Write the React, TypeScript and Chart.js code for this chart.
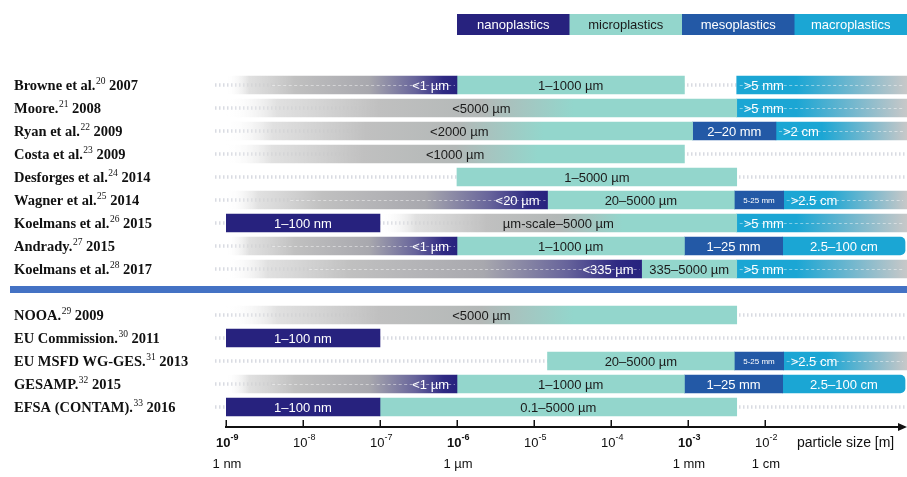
import React, { useEffect, useRef } from "react";
import { Chart, registerables } from "chart.js";
Chart.register(...registerables);

// ---------- DATA ----------
const authors = ["Browne et al.", "Moore.", "Ryan et al.", "Costa et al.", "Desforges et al.", "Wagner et al.", "Koelmans et al.", "Andrady.", "Koelmans et al.", "", "NOOA.", "EU Commission.", "EU MSFD WG-GES.", "GESAMP.", "EFSA (CONTAM)."];
const refs = ["20", "21", "22", "23", "24", "25", "26", "27", "28", "", "29", "30", "31", "32", "33"];
const years = ["2007", "2008", "2009", "2009", "2014", "2014", "2015", "2015", "2017", "", "2009", "2011", "2013", "2015", "2016"];
const categories = authors.map((a, i) => (a ? `${a} ${years[i]}` : "separator"));
const separatorRow = 9;

type R = [number, number] | null;
const _ = null;

// gray -> navy (nano, open lower end)
const nanoFade: R[] = [[1e-9, 1e-6], _, _, _, _, [1e-9, 1.5e-5], _, [1e-9, 1e-6], [1e-9, 2.5e-4], _, _, _, _, [1e-9, 1e-6], _];
const nanoFadeText = ["<1 µm", "", "", "", "", "<20 µm", "", "<1 µm", "<335 µm", "", "", "", "", "<1 µm", ""];
// solid navy
const nanoSolid: R[] = [_, _, _, _, _, _, [1e-9, 1e-7], _, _, _, _, [1e-9, 1e-7], _, _, [1e-9, 1e-7]];
const nanoSolidText = ["", "", "", "", "", "", "1–100 nm", "", "", "", "", "1–100 nm", "", "", "1–100 nm"];
// gray -> teal (micro, open lower end)
const microFade: R[] = [_, [1e-9, 4.3e-3], [1e-9, 1.15e-3], [1e-9, 9e-4], _, _, [1e-7, 4.3e-3], _, _, _, [1e-9, 4.3e-3], _, _, _, _];
const microFadeText = ["", "<5000 µm", "<2000 µm", "<1000 µm", "", "", "µm-scale–5000 µm", "", "", "", "<5000 µm", "", "", "", ""];
// solid teal
const microSolid: R[] = [[1e-6, 9e-4], _, _, _, [1e-6, 4.3e-3], [1.5e-5, 4e-3], _, [1e-6, 9e-4], [2.5e-4, 4.3e-3], _, _, _, [1.5e-5, 4e-3], [1e-6, 9e-4], [1e-7, 4.3e-3]];
const microSolidText = ["1–1000 µm", "", "", "", "1–5000 µm", "20–5000 µm", "", "1–1000 µm", "335–5000 µm", "", "", "", "20–5000 µm", "1–1000 µm", "0.1–5000 µm"];
// solid blue (meso)
const mesoSolid: R[] = [_, _, [1.15e-3, 1.39e-2], _, _, [4e-3, 1.75e-2], _, [9e-4, 1.7e-2], _, _, _, _, [4e-3, 1.75e-2], [9e-4, 1.7e-2], _];
const mesoSolidText = ["", "", "2–20 mm", "", "", "5-25 mm", "", "1–25 mm", "", "", "", "", "5-25 mm", "1–25 mm", ""];
// solid cyan (macro)
const macroSolid: R[] = [_, _, _, _, _, _, _, [1.7e-2, 0.66], _, _, _, _, _, [1.7e-2, 0.66], _];
const macroSolidText = ["", "", "", "", "", "", "", "2.5–100 cm", "", "", "", "", "", "2.5–100 cm", ""];
// cyan -> gray (macro, open upper end)
const macroFade: R[] = [[4.3e-3, 0.7], [4.3e-3, 0.7], [1.39e-2, 0.7], _, _, [1.75e-2, 0.7], [4.3e-3, 0.7], _, [4.3e-3, 0.7], _, _, _, [1.75e-2, 0.7], _, _];
const macroFadeText = [">5 mm", ">5 mm", ">2 cm", "", "", ">2.5 cm", ">5 mm", "", ">5 mm", "", "", "", ">2.5 cm", "", ""];

const legendNames = ["nanoplastics", "microplastics", "mesoplastics", "macroplastics"];
const tickExps = [-9, -8, -7, -6, -5, -4, -3, -2];
const boldExps = [-9, -6, -3];
const unitValues = [1e-9, 1e-6, 1e-3, 1e-2];
const unitTexts = ["1 nm", "1 µm", "1 mm", "1 cm"];
const axisTitle = "particle size [m]";

// ---------- STYLE ----------
const NAVY = "#27227e";
const TEAL = "#93d6cc";
const BLUE = "#2359a6";
const CYAN = "#1ba6d4";
const legendColors = [NAVY, TEAL, BLUE, CYAN];
const legendTextColors = ["#ffffff", "#1a1a1a", "#ffffff", "#ffffff"];
const SANS = '"Liberation Sans", Arial, sans-serif';
const SERIF = '"Liberation Serif", "Times New Roman", serif';

function gradient(kind: string, fallback: string) {
  return (ctx: any) => {
    const chart = ctx.chart;
    const raw = ctx.raw;
    if (!raw || !chart.chartArea || !chart.scales.x) return fallback;
    const xs = chart.scales.x;
    const x0 = xs.getPixelForValue(raw[0]);
    const x1 = xs.getPixelForValue(raw[1]);
    if (!isFinite(x0) || !isFinite(x1) || x1 === x0) return fallback;
    const g = chart.ctx.createLinearGradient(x0, 0, x1, 0);
    if (kind === "nano") {
      g.addColorStop(0, "rgba(255,255,255,0)");
      g.addColorStop(0.1, "rgba(214,214,214,0.75)");
      g.addColorStop(0.3, "#c0c0c0");
      g.addColorStop(0.62, "#a8a8ae");
      g.addColorStop(0.82, "#67649b");
      g.addColorStop(0.94, "#2f2a83");
      g.addColorStop(1, NAVY);
    } else if (kind === "micro") {
      g.addColorStop(0, "rgba(255,255,255,0)");
      g.addColorStop(0.1, "rgba(214,214,214,0.75)");
      g.addColorStop(0.3, "#c0c0c0");
      g.addColorStop(0.5, "#b3b8b7");
      g.addColorStop(0.68, TEAL);
      g.addColorStop(1, TEAL);
    } else {
      g.addColorStop(0, CYAN);
      g.addColorStop(0.35, CYAN);
      g.addColorStop(1, "#c8c8c8");
    }
    return g;
  };
}

const dsDefs = [
  { key: "nanoFade", data: nanoFade, texts: nanoFadeText, bg: gradient("nano", NAVY), color: "#ffffff", align: "right", dashes: true },
  { key: "microFade", data: microFade, texts: microFadeText, bg: gradient("micro", TEAL), color: "#1a1a1a", align: "center", dashes: false },
  { key: "nanoSolid", data: nanoSolid, texts: nanoSolidText, bg: NAVY, color: "#ffffff", align: "center", dashes: false },
  { key: "microSolid", data: microSolid, texts: microSolidText, bg: TEAL, color: "#1a1a1a", align: "center", dashes: false },
  { key: "mesoSolid", data: mesoSolid, texts: mesoSolidText, bg: BLUE, color: "#ffffff", align: "center", dashes: false },
  { key: "macroSolid", data: macroSolid, texts: macroSolidText, bg: CYAN, color: "#ffffff", align: "center", dashes: false, radius: 5 },
  { key: "macroFade", data: macroFade, texts: macroFadeText, bg: gradient("macro", CYAN), color: "#ffffff", align: "left", dashes: true },
];

const dottedPlugin = {
  id: "dotted",
  beforeDatasetsDraw(chart: any) {
    const { ctx, chartArea, scales } = chart;
    ctx.save();
    ctx.strokeStyle = "rgba(185,190,202,0.55)";
    ctx.lineWidth = 3.5;
    ctx.setLineDash([1.5, 2.5]);
    categories.forEach((_c, i) => {
      if (i === separatorRow) return;
      const y = scales.y.getPixelForValue(i);
      ctx.beginPath();
      ctx.moveTo(chartArea.left - 11, y);
      ctx.lineTo(chartArea.right, y);
      ctx.stroke();
    });
    ctx.restore();
  },
};

const textPlugin = {
  id: "barTexts",
  afterDatasetsDraw(chart: any) {
    const { ctx } = chart;
    chart.data.datasets.forEach((ds: any, di: number) => {
      const meta = chart.getDatasetMeta(di);
      meta.data.forEach((el: any, i: number) => {
        const t = ds.texts[i];
        if (!t) return;
        const p = el.getProps(["x", "base", "y"], true);
        const left = Math.min(p.x, p.base);
        const right = Math.max(p.x, p.base);
        const w = right - left;
        ctx.save();
        if (ds.dashes) {
          ctx.strokeStyle = "rgba(255,255,255,0.45)";
          ctx.lineWidth = 1;
          ctx.setLineDash([3, 2.5]);
          ctx.beginPath();
          if (ds.align === "right") {
            ctx.moveTo(left + w * 0.2, p.y + 0.5);
            ctx.lineTo(right - 2, p.y + 0.5);
          } else {
            ctx.moveTo(left + 3, p.y + 0.5);
            ctx.lineTo(right - 4, p.y + 0.5);
          }
          ctx.stroke();
          ctx.setLineDash([]);
        }
        let size = 13;
        ctx.font = `${size}px ${SANS}`;
        if (ctx.measureText(t).width > w - 4) {
          size = 8;
          ctx.font = `${size}px ${SANS}`;
        }
        ctx.fillStyle = ds.textColor;
        ctx.textBaseline = "middle";
        let tx: number;
        if (ds.align === "right") {
          ctx.textAlign = "right";
          tx = right - 8;
        } else if (ds.align === "left") {
          ctx.textAlign = "left";
          tx = left + 7;
        } else {
          ctx.textAlign = "center";
          tx = (left + right) / 2;
        }
        ctx.fillText(t, tx, p.y + 1);
        ctx.restore();
      });
    });
  },
};

const framePlugin = {
  id: "frame",
  afterDraw(chart: any) {
    const { ctx, chartArea, scales } = chart;
    const xs = scales.x;
    const ys = scales.y;
    ctx.save();

    // row labels (author, superscript ref, year)
    ctx.textBaseline = "alphabetic";
    ctx.textAlign = "left";
    ctx.fillStyle = "#111111";
    authors.forEach((a, i) => {
      if (!a) return;
      const y = ys.getPixelForValue(i) + 5;
      let x = 14;
      ctx.font = `bold 14.5px ${SERIF}`;
      ctx.fillText(a, x, y);
      x += ctx.measureText(a).width;
      ctx.font = `9.5px ${SERIF}`;
      ctx.fillText(refs[i], x + 0.5, y - 6);
      x += ctx.measureText(refs[i]).width + 0.5;
      ctx.font = `bold 14.5px ${SERIF}`;
      ctx.fillText(" " + years[i], x, y);
    });

    // separator
    const sy = ys.getPixelForValue(separatorRow);
    ctx.fillStyle = "#4472c4";
    ctx.fillRect(10, sy - 6, chartArea.right - 10, 7);

    // legend
    const lw = 112.5;
    const lx0 = chartArea.right - lw * legendNames.length;
    legendNames.forEach((n, i) => {
      const x = lx0 + i * lw;
      ctx.fillStyle = legendColors[i];
      ctx.fillRect(x, 14, lw + 0.5, 21);
      ctx.fillStyle = legendTextColors[i];
      ctx.font = `13px ${SANS}`;
      ctx.textAlign = "center";
      ctx.textBaseline = "middle";
      ctx.fillText(n, x + lw / 2, 25);
    });

    // axis line
    const ay = chartArea.bottom + 8.5;
    ctx.strokeStyle = "#111111";
    ctx.fillStyle = "#111111";
    ctx.lineWidth = 2;
    ctx.beginPath();
    ctx.moveTo(xs.getPixelForValue(1e-9) - 1, ay);
    ctx.lineTo(chartArea.right - 4, ay);
    ctx.stroke();
    ctx.beginPath();
    ctx.moveTo(chartArea.right, ay);
    ctx.lineTo(chartArea.right - 9, ay - 4);
    ctx.lineTo(chartArea.right - 9, ay + 4);
    ctx.closePath();
    ctx.fill();

    ctx.lineWidth = 1.5;
    tickExps.forEach((e) => {
      const x = Math.round(xs.getPixelForValue(Math.pow(10, e))) + 0.25;
      ctx.beginPath();
      ctx.moveTo(x, ay - 7);
      ctx.lineTo(x, ay);
      ctx.stroke();
      const bold = boldExps.includes(e) ? "bold " : "";
      ctx.font = `${bold}13px ${SANS}`;
      const baseW = ctx.measureText("10").width;
      ctx.font = `${bold}9px ${SANS}`;
      const expStr = String(e);
      const expW = ctx.measureText(expStr).width;
      const total = baseW + expW;
      const sx = x - total / 2 + 1;
      ctx.textAlign = "left";
      ctx.textBaseline = "alphabetic";
      ctx.font = `${bold}13px ${SANS}`;
      ctx.fillText("10", sx, ay + 20);
      ctx.font = `${bold}9px ${SANS}`;
      ctx.fillText(expStr, sx + baseW, ay + 13);
    });

    ctx.font = `13px ${SANS}`;
    ctx.textAlign = "center";
    unitValues.forEach((v, i) => {
      const x = xs.getPixelForValue(v);
      ctx.fillText(unitTexts[i], x + 1, ay + 41);
    });

    ctx.textAlign = "left";
    ctx.font = `14px ${SANS}`;
    ctx.fillText(axisTitle, 797, ay + 20);

    ctx.restore();
  },
};

export default function App() {
  const ref = useRef<HTMLCanvasElement>(null);
  useEffect(() => {
    const canvas = ref.current!;
    const chart = new Chart(canvas, {
      type: "bar",
      data: {
        labels: categories,
        datasets: dsDefs.map((d) => ({
          label: d.key,
          data: d.data as any,
          texts: d.texts,
          textColor: d.color,
          align: d.align,
          dashes: d.dashes,
          backgroundColor: d.bg as any,
          borderWidth: 0,
          borderRadius: (d as any).radius || 0,
          grouped: false,
          barThickness: 18,
        })) as any,
      },
      options: {
        indexAxis: "y",
        responsive: false,
        animation: false,
        layout: { padding: { left: 226, right: 0, top: 73.5, bottom: 58.5 } },
        scales: {
          x: { type: "logarithmic", min: 1e-9, max: 0.7, bounds: "data", display: false },
          y: { type: "category", display: false, offset: true },
        },
        plugins: {
          legend: { display: false },
          tooltip: { enabled: false },
        },
      } as any,
      plugins: [dottedPlugin, textPlugin, framePlugin],
    });
    return () => chart.destroy();
  }, []);
  return (
    <div style={{ position: "fixed", left: 0, top: 0, width: 907, height: 477, background: "#ffffff" }}>
      <canvas ref={ref} width={907} height={477} style={{ display: "block", width: 907, height: 477 }} />
    </div>
  );
}
